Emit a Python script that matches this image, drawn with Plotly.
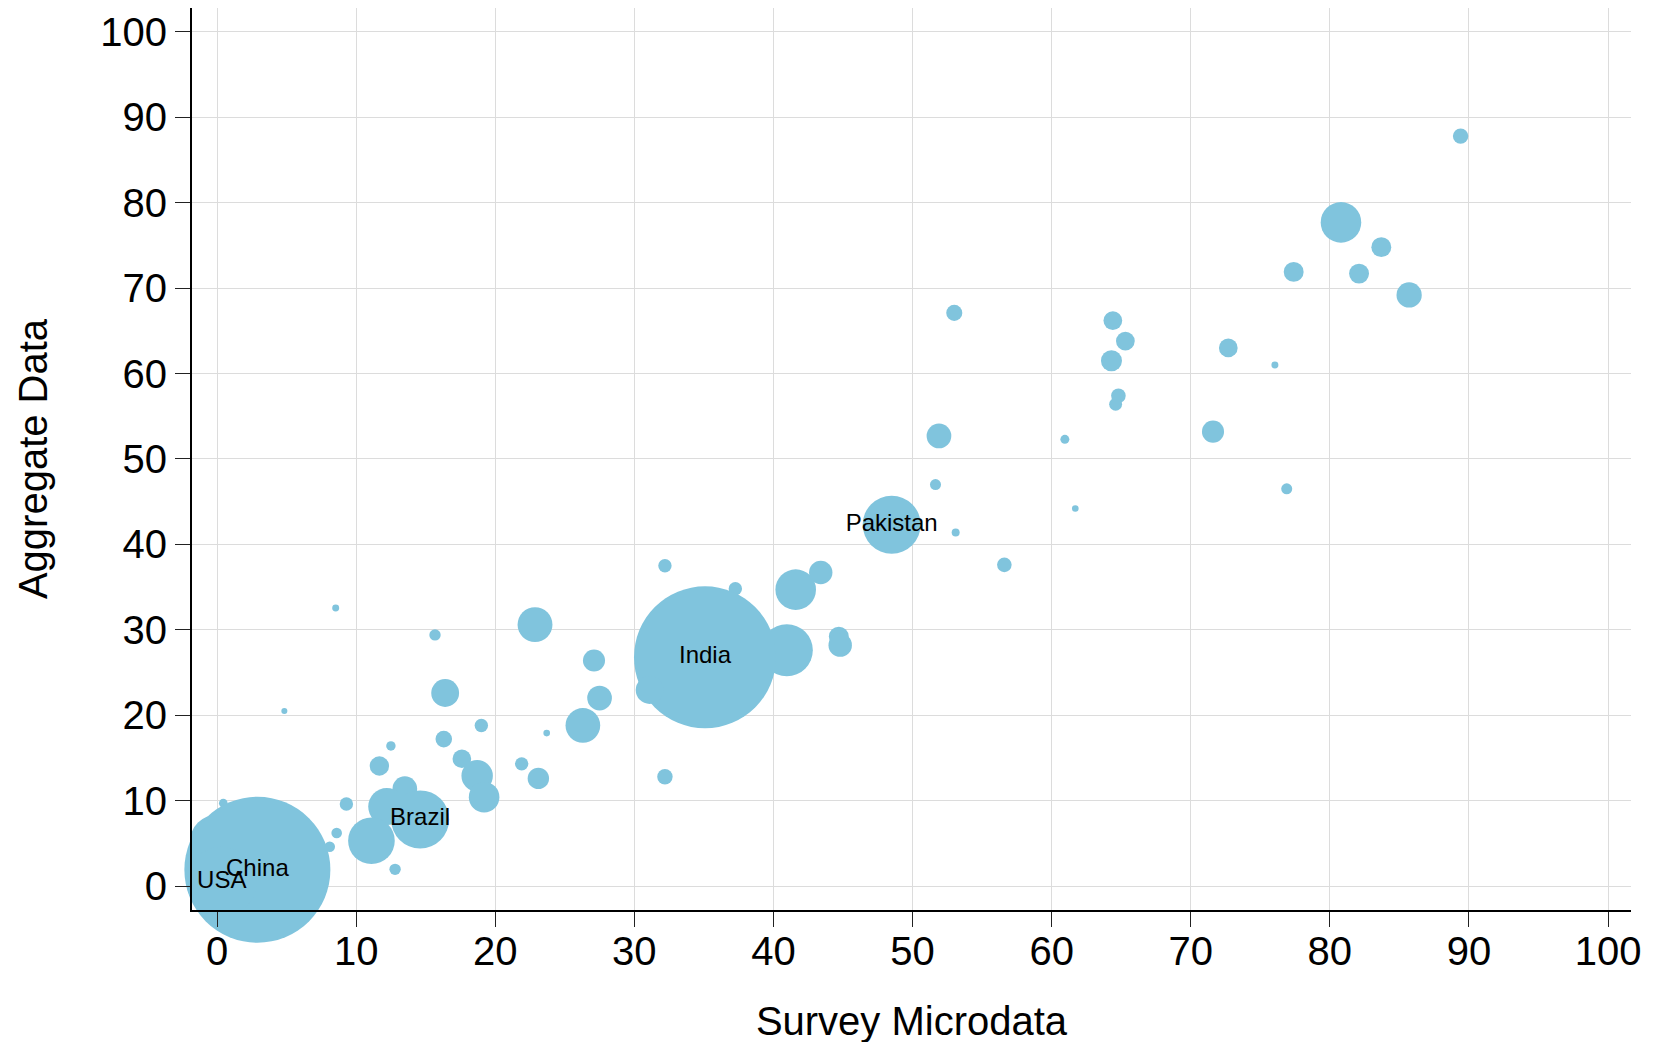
import plotly.graph_objects as go

# Data
survey = [89.4, 80.8, 83.7, 77.4, 82.1, 85.7, 53.0, 64.4, 65.3, 72.7,
          64.3, 76.05, 64.8, 64.6, 51.9, 71.6, 60.95, 51.65, 76.9, 61.7,
          48.5, 53.1, 56.6, 32.2, 37.26, 41.6, 43.4, 40.96, 44.7, 44.8,
          35.08, 31.1, 22.86, 15.67, 8.53, 27.1, 27.5, 26.3, 23.7, 16.4,
          16.3, 19.0, 4.84, 12.5, 11.67, 17.6, 21.9, 18.7, 19.2, 23.1,
          32.2, 13.5, 12.2, 14.6, 11.1, 9.3, 8.6, 8.1, 12.8, 0.45,
          0.0, 2.9, 0.34]
aggregate = [87.8, 77.7, 74.8, 71.9, 71.7, 69.2, 67.1, 66.2, 63.8, 63.0,
             61.5, 61.0, 57.4, 56.4, 52.7, 53.2, 52.3, 47.0, 46.5, 44.2,
             42.3, 41.4, 37.6, 37.5, 34.8, 34.7, 36.7, 27.6, 29.2, 28.2,
             26.78, 22.95, 30.6, 29.4, 32.55, 26.4, 22.0, 18.8, 17.9, 22.6,
             17.2, 18.8, 20.5, 16.4, 14.05, 14.9, 14.3, 12.9, 10.4, 12.6,
             12.8, 11.4, 9.3, 7.8, 5.3, 9.6, 6.2, 4.6, 1.95, 9.7,
             5.2, 1.9, 0.5]
population = [15.6, 108, 26, 26, 26, 42, 17, 23, 23, 23,
              29, 3.2, 14, 11, 40, 32, 5.3, 8, 8, 2.9,
              221, 4.2, 14, 11.8, 11.8, 108, 36, 178, 26, 36,
              1324, 51, 80, 8.5, 3.2, 32, 40, 79, 2.9, 51,
              18, 11.8, 2.4, 5.8, 24.7, 22.7, 11.8, 65, 61.5, 30,
              15.6, 40, 90, 221, 143, 11.8, 7.4, 7.4, 8.5, 4.9,
              191, 1400, 322]
country = ["", "", "", "", "", "", "", "", "", "",
           "", "", "", "", "", "", "", "", "", "",
           "Pakistan", "", "", "", "", "", "", "", "", "",
           "India", "", "", "", "", "", "", "", "", "",
           "", "", "", "", "", "", "", "", "", "",
           "", "", "", "Brazil", "", "", "", "", "", "",
           "", "China", "USA"]
x_ticks = [0, 10, 20, 30, 40, 50, 60, 70, 80, 90, 100]
y_ticks = [0, 10, 20, 30, 40, 50, 60, 70, 80, 90, 100]

MAX_DIAMETER = 146
sizeref = 2 * max(population) / (MAX_DIAMETER ** 2)

FONT = "Liberation Sans, Arial, sans-serif"

fig = go.Figure(go.Scatter(
    x=survey, y=aggregate, text=country,
    mode="markers+text", textposition="middle center",
    textfont=dict(family=FONT, size=24, color="black"),
    marker=dict(size=population, sizemode="area", sizeref=sizeref,
                color="#80c4dd", opacity=1, line=dict(width=0)),
    cliponaxis=False, hoverinfo="skip",
))

axis_common = dict(
    showgrid=True, gridcolor="#dcdcdc", gridwidth=1,
    showline=True, linecolor="black", linewidth=2,
    ticks="outside", ticklen=15, tickwidth=1.3, tickcolor="#222",
    tickfont=dict(family=FONT, size=40, color="black"),
    zeroline=False, layer="above traces",
)

fig.update_layout(
    width=1655, height=1042,
    margin=dict(l=184, r=32, t=0, b=140, autoexpand=False),
    plot_bgcolor="white", paper_bgcolor="white", showlegend=False,
    font=dict(family=FONT, color="black"),
    xaxis=dict(range=[-1.8, 101.65], tickvals=x_ticks, ticklabelstandoff=-10,
               title=dict(text="Survey Microdata", font=dict(family=FONT, size=40), standoff=35),
               **axis_common),
    yaxis=dict(range=[-2.81, 102.8], tickvals=y_ticks,
               title=dict(text="Aggregate Data", font=dict(family=FONT, size=40), standoff=40),
               **axis_common),
)

fig.write_html("out.html")
